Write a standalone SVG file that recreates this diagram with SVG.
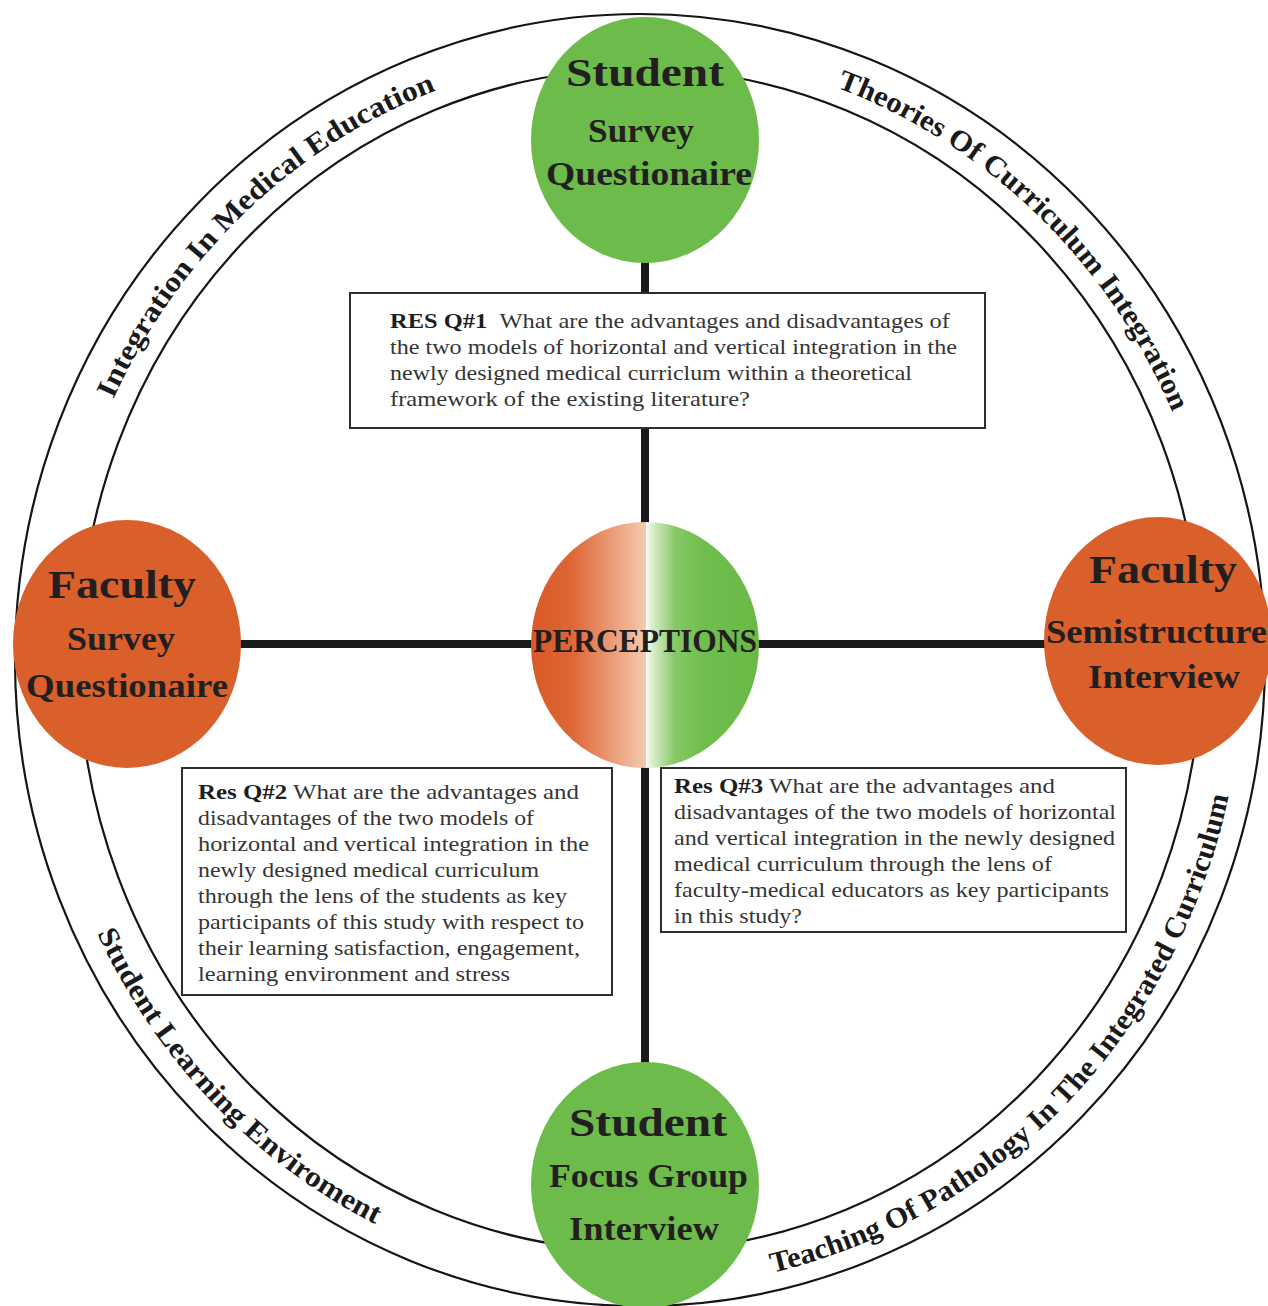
<svg xmlns="http://www.w3.org/2000/svg" width="1268" height="1306" viewBox="0 0 1268 1306">
  <style>
    .ring { fill: none; stroke: #151515; stroke-width: 2.2; }
    .link { stroke: #1a1a1a; stroke-width: 8; stroke-linecap: butt; }
    .green { fill: #6dbb4a; }
    .orange { fill: #d95f2b; }
    .title { font-family: "Liberation Serif", "Times New Roman", serif; font-weight: bold; fill: #231f20; }
    .t1 { font-size: 41px; }
    .t2 { font-size: 33px; }
    .box { fill: #ffffff; stroke: #2e2e2e; stroke-width: 2; }
    .body { font-family: "Liberation Serif", "Times New Roman", serif; font-size: 22px; fill: #353535; }
    .body .b { font-weight: bold; fill: #1e1e1e; }
    .arc { font-family: "Liberation Serif", "Times New Roman", serif; font-weight: bold; font-size: 29px; fill: #1a1a1a; }
  </style>
  <defs>
    <linearGradient id="gOrange" gradientUnits="userSpaceOnUse" x1="531" y1="0" x2="646" y2="0">
      <stop offset="0" stop-color="#d95a27"/>
      <stop offset="0.35" stop-color="#dd6635"/>
      <stop offset="0.72" stop-color="#eb9e7b"/>
      <stop offset="1" stop-color="#f5caaf"/>
    </linearGradient>
    <linearGradient id="gGreen" gradientUnits="userSpaceOnUse" x1="646" y1="0" x2="759" y2="0">
      <stop offset="0" stop-color="#fbfdf8"/>
      <stop offset="0.04" stop-color="#e2f1d6"/>
      <stop offset="0.25" stop-color="#88c967"/>
      <stop offset="0.5" stop-color="#70be4d"/>
      <stop offset="1" stop-color="#6ab947"/>
    </linearGradient>
    <clipPath id="centreClip">
      <ellipse cx="645" cy="645" rx="114" ry="123"/>
    </clipPath>
    <!-- baselines for the lettering inside the ring band -->
    <path id="arcIntegration" d="M113.4,399.2 A583,608 0 0 1 440.6,88.7"/>
    <path id="arcTheories" d="M836.5,87.6 A583,608 0 0 1 1173.9,415.6"/>
    <path id="arcLearning" d="M97.1,933.3 A603,628 0 0 0 379.4,1226.3"/>
    <path id="arcPathology" d="M772.5,1272.6 A603,628 0 0 0 1229.8,790.6"/>
  </defs>

  <!-- outer ring band, its titles set in runs along the arcs -->
  <g id="ring">
    <ellipse class="ring" cx="640" cy="660" rx="625" ry="646"/>
    <ellipse class="ring" cx="640" cy="660" rx="561" ry="591"/>

    <g id="ring-integration">
      <text class="arc"><textPath href="#arcIntegration" startOffset="0" textLength="310" lengthAdjust="spacingAndGlyphs">Integration In Medical</textPath></text>
      <text class="arc"><textPath href="#arcIntegration" startOffset="318" textLength="140" lengthAdjust="spacingAndGlyphs">Education</textPath></text>
    </g>

    <g id="ring-theories">
      <text class="arc"><textPath href="#arcTheories" startOffset="0" textLength="322.8" lengthAdjust="spacingAndGlyphs">Theories Of Curriculum</textPath></text>
      <text class="arc"><textPath href="#arcTheories" startOffset="330.6" textLength="149.4" lengthAdjust="spacingAndGlyphs">Integration</textPath></text>
    </g>

    <g id="ring-learning">
      <text class="arc"><textPath href="#arcLearning" startOffset="0" textLength="106.1" lengthAdjust="spacingAndGlyphs">Student</textPath></text>
      <text class="arc"><textPath href="#arcLearning" startOffset="114" textLength="296" lengthAdjust="spacingAndGlyphs">Learning Enviroment</textPath></text>
    </g>

    <g id="ring-pathology">
      <text class="arc"><textPath href="#arcPathology" startOffset="0" textLength="390.8" lengthAdjust="spacingAndGlyphs">Teaching Of Pathology In The</textPath></text>
      <text class="arc"><textPath href="#arcPathology" startOffset="398.4" textLength="135.8" lengthAdjust="spacingAndGlyphs">Integrated</textPath></text>
      <text class="arc"><textPath href="#arcPathology" startOffset="541.8" textLength="154.3" lengthAdjust="spacingAndGlyphs">Curriculum</textPath></text>
    </g>
  </g>

  <!-- connectors between the centre and the four methods -->
  <g id="connectors">
    <line class="link" x1="645" y1="255" x2="645" y2="530"/>
    <line class="link" x1="645" y1="760" x2="645" y2="1070"/>
    <line class="link" x1="235" y1="644" x2="540" y2="644"/>
    <line class="link" x1="750" y1="644" x2="1050" y2="644"/>
  </g>

  <g id="node-student-survey">
    <ellipse class="green" cx="645" cy="140" rx="114" ry="123"/>
    <text class="title t1" x="566" y="86" textLength="158" lengthAdjust="spacingAndGlyphs">Student</text>
    <text class="title t2" x="588" y="142" textLength="106" lengthAdjust="spacingAndGlyphs">Survey</text>
    <text class="title t2" x="546" y="185" textLength="206" lengthAdjust="spacingAndGlyphs">Questionaire</text>
  </g>

  <g id="node-faculty-survey">
    <ellipse class="orange" cx="127" cy="644" rx="114" ry="124"/>
    <text class="title t1" x="48" y="598" textLength="148" lengthAdjust="spacingAndGlyphs">Faculty</text>
    <text class="title t2" x="67" y="650" textLength="108" lengthAdjust="spacingAndGlyphs">Survey</text>
    <text class="title t2" x="26" y="697" textLength="202" lengthAdjust="spacingAndGlyphs">Questionaire</text>
  </g>

  <g id="node-faculty-interview">
    <ellipse class="orange" cx="1158" cy="641" rx="114" ry="124"/>
    <text class="title t1" x="1089" y="583" textLength="148" lengthAdjust="spacingAndGlyphs">Faculty</text>
    <text class="title t2" x="1046" y="643" textLength="221" lengthAdjust="spacingAndGlyphs">Semistructure</text>
    <text class="title t2" x="1088" y="688" textLength="152" lengthAdjust="spacingAndGlyphs">Interview</text>
  </g>

  <g id="node-student-focus">
    <ellipse class="green" cx="645" cy="1185" rx="114" ry="123"/>
    <text class="title t1" x="569" y="1136" textLength="158" lengthAdjust="spacingAndGlyphs">Student</text>
    <text class="title t2" x="549" y="1187" textLength="199" lengthAdjust="spacingAndGlyphs">Focus Group</text>
    <text class="title t2" x="569" y="1240" textLength="150" lengthAdjust="spacingAndGlyphs">Interview</text>
  </g>

  <g id="node-perceptions">
    <g clip-path="url(#centreClip)">
      <rect x="530" y="520" width="116" height="250" fill="url(#gOrange)"/>
      <rect x="646" y="520" width="114" height="250" fill="url(#gGreen)"/>
    </g>
    <text class="title" x="533" y="652" font-size="34" textLength="224" lengthAdjust="spacingAndGlyphs">PERCEPTIONS</text>
  </g>

  <g id="box-resq1">
    <rect class="box" x="350" y="293" width="635" height="135"/>
    <text class="body" x="390" y="328" textLength="560" lengthAdjust="spacingAndGlyphs"><tspan class="b">RES Q#1</tspan><tspan dx="6"> What are the advantages and disadvantages of</tspan></text>
    <text class="body" x="390" y="354" textLength="567" lengthAdjust="spacingAndGlyphs">the two models of horizontal and vertical integration in the</text>
    <text class="body" x="390" y="380" textLength="522" lengthAdjust="spacingAndGlyphs">newly designed medical curriclum within a theoretical</text>
    <text class="body" x="390" y="406" textLength="360" lengthAdjust="spacingAndGlyphs">framework of the existing literature?</text>
  </g>

  <g id="box-resq2">
    <rect class="box" x="182" y="768" width="430" height="227"/>
    <text class="body" x="198" y="799" textLength="381" lengthAdjust="spacingAndGlyphs"><tspan class="b">Res Q#2</tspan> What are the advantages and</text>
    <text class="body" x="198" y="825" textLength="336" lengthAdjust="spacingAndGlyphs">disadvantages of the two models of</text>
    <text class="body" x="198" y="851" textLength="391" lengthAdjust="spacingAndGlyphs">horizontal and vertical integration in the</text>
    <text class="body" x="198" y="877" textLength="341" lengthAdjust="spacingAndGlyphs">newly designed medical curriculum</text>
    <text class="body" x="198" y="903" textLength="369" lengthAdjust="spacingAndGlyphs">through the lens of the students as key</text>
    <text class="body" x="198" y="929" textLength="386" lengthAdjust="spacingAndGlyphs">participants of this study with respect to</text>
    <text class="body" x="198" y="955" textLength="382" lengthAdjust="spacingAndGlyphs">their learning satisfaction, engagement,</text>
    <text class="body" x="198" y="981" textLength="312" lengthAdjust="spacingAndGlyphs">learning environment and stress</text>
  </g>

  <g id="box-resq3">
    <rect class="box" x="661" y="768" width="465" height="164"/>
    <text class="body" x="674" y="793" textLength="381" lengthAdjust="spacingAndGlyphs"><tspan class="b">Res Q#3</tspan> What are the advantages and</text>
    <text class="body" x="674" y="819" textLength="442" lengthAdjust="spacingAndGlyphs">disadvantages of the two models of horizontal</text>
    <text class="body" x="674" y="845" textLength="441" lengthAdjust="spacingAndGlyphs">and vertical integration in the newly designed</text>
    <text class="body" x="674" y="871" textLength="378" lengthAdjust="spacingAndGlyphs">medical curriculum through the lens of</text>
    <text class="body" x="674" y="897" textLength="435" lengthAdjust="spacingAndGlyphs">faculty-medical educators as key participants</text>
    <text class="body" x="674" y="923" textLength="128" lengthAdjust="spacingAndGlyphs">in this study?</text>
  </g>
</svg>
